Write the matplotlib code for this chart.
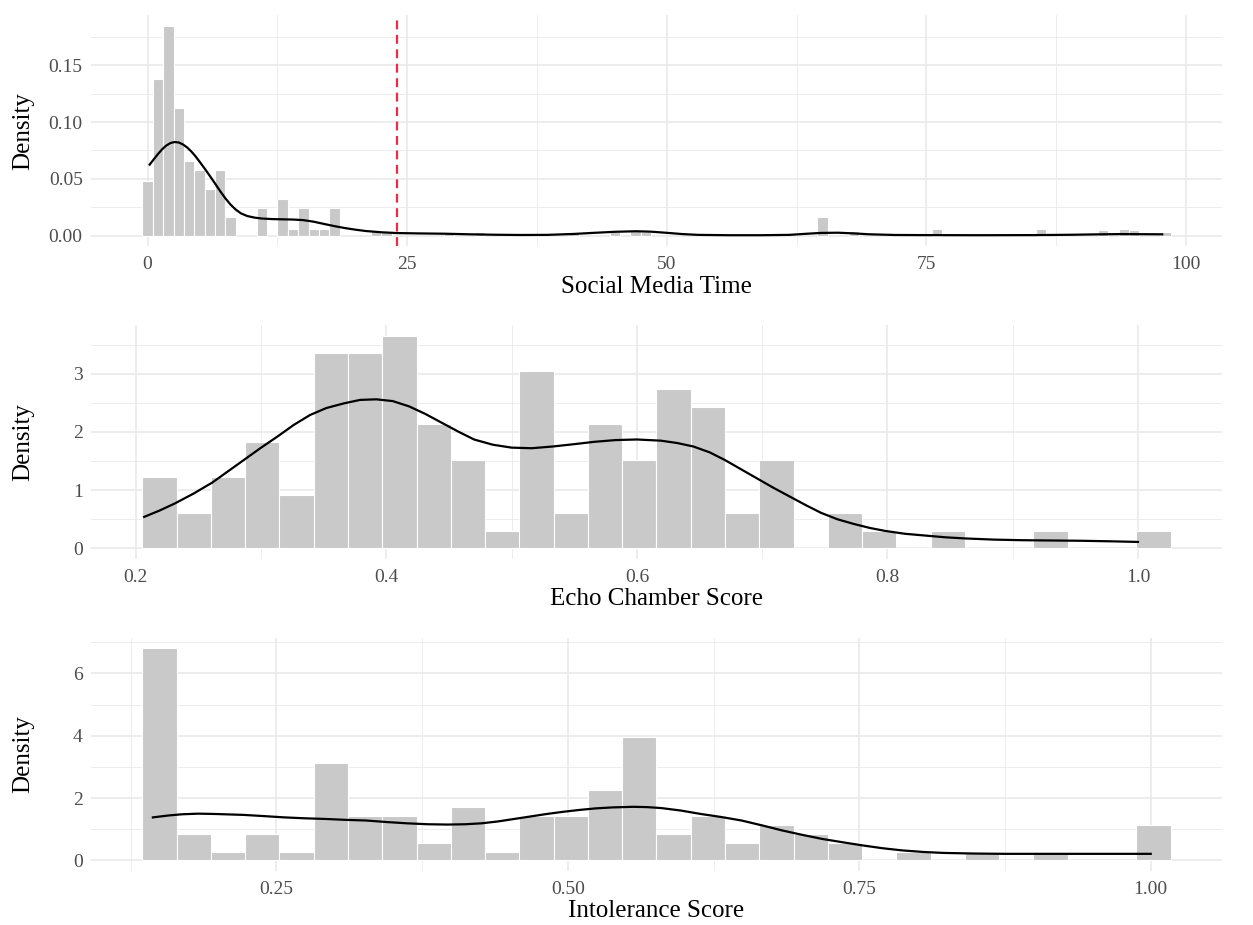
import numpy as np
import matplotlib
matplotlib.use('Agg')
import matplotlib.pyplot as plt
from matplotlib.ticker import FixedLocator, FormatStrFormatter

social_bins = [0, 1, 2, 3, 4, 5, 6, 7, 8, 11, 13, 14, 15, 16, 17, 18,
               22, 23, 29, 32, 41, 45, 47, 48, 65, 68, 76, 86, 92, 94, 95, 98]
social_density = [0.048, 0.138, 0.185, 0.112, 0.066, 0.058, 0.041, 0.058, 0.016,
                  0.024, 0.032, 0.006, 0.024, 0.006, 0.006, 0.024,
                  0.004, 0.003, 0.003, 0.003, 0.003, 0.003, 0.005, 0.003,
                  0.016, 0.004, 0.006, 0.006, 0.005, 0.006, 0.005, 0.003]
social_kde_x = [0.2, 0.6, 1.0, 1.4, 1.8, 2.2, 2.6, 3.0, 3.4, 3.8, 4.2, 4.6, 5.0,
                5.5, 6.0, 6.5, 7.0, 7.5, 8.0, 8.5, 9.0, 9.6, 10.3, 11.0, 12.0,
                13.0, 14.0, 15.0, 16.0, 17.0, 18.0, 19.0, 20.0, 21.0, 22.5, 24.0,
                26.0, 28.7, 31.0, 33.5, 36.0, 38.5, 41.0, 43.0, 45.0, 47.0, 48.5,
                50.0, 51.5, 53.0, 56.0, 59.0, 61.8, 63.5, 64.8, 66.5, 68.0, 69.5,
                72.0, 74.6, 80.0, 85.6, 89.0, 91.1, 93.7, 97.7]
social_kde_y = [0.0625, 0.0672, 0.0718, 0.0760, 0.0793, 0.0815, 0.0824, 0.0820,
                0.0803, 0.0777, 0.0742, 0.0700, 0.0652, 0.0590, 0.0525, 0.0458,
                0.0390, 0.0327, 0.0272, 0.0228, 0.0195, 0.0172, 0.0158, 0.0150,
                0.0145, 0.0143, 0.0141, 0.0136, 0.0122, 0.0102, 0.0083, 0.0066,
                0.0052, 0.0040, 0.0029, 0.0022, 0.0019, 0.0016, 0.0011, 0.0007,
                0.0005, 0.0006, 0.0014, 0.0024, 0.0033, 0.0038, 0.0034, 0.0024,
                0.0013, 0.0006, 0.0003, 0.0003, 0.0006, 0.0016, 0.0023, 0.0025,
                0.0019, 0.0011, 0.0005, 0.0004, 0.0003, 0.0004, 0.0007, 0.0010,
                0.0013, 0.0011]
social_cutoff = 24

# Echo Chamber Score: 30 bins, counts per bin
echo_start = 0.2052
echo_width = 0.02736
echo_counts = [4, 2, 4, 6, 3, 11, 11, 12, 7, 5, 1, 10, 2, 7, 5,
               9, 8, 2, 5, 0, 2, 1, 0, 1, 0, 0, 1, 0, 0, 1]
echo_kde_x = [0.2066, 0.219, 0.231, 0.246, 0.261, 0.274, 0.287, 0.300, 0.313,
              0.326, 0.339, 0.352, 0.366, 0.379, 0.392, 0.405, 0.418, 0.431,
              0.444, 0.457, 0.470, 0.485, 0.500, 0.516, 0.533, 0.550, 0.566,
              0.583, 0.600, 0.619, 0.632, 0.645, 0.658, 0.670, 0.683, 0.696,
              0.709, 0.722, 0.735, 0.747, 0.760, 0.773, 0.786, 0.798, 0.814,
              0.830, 0.846, 0.862, 0.885, 0.907, 0.930, 0.955, 0.980, 1.0]
echo_kde_y = [0.54, 0.65, 0.77, 0.94, 1.13, 1.33, 1.53, 1.73, 1.92, 2.12, 2.29,
              2.41, 2.49, 2.55, 2.56, 2.53, 2.44, 2.31, 2.16, 2.01, 1.87, 1.78,
              1.73, 1.72, 1.75, 1.79, 1.83, 1.86, 1.87, 1.85, 1.81, 1.75, 1.65,
              1.52, 1.36, 1.20, 1.04, 0.89, 0.74, 0.61, 0.50, 0.42, 0.35, 0.30,
              0.25, 0.22, 0.19, 0.17, 0.15, 0.14, 0.135, 0.13, 0.12, 0.11]

# Intolerance Score: 30 bins, counts per bin
intol_start = 0.135
intol_width = 0.0294
intol_counts = [24, 3, 1, 3, 1, 11, 5, 5, 2, 6, 1, 5, 5, 8, 14,
                3, 5, 2, 4, 3, 2, 0, 1, 0, 1, 0, 1, 0, 0, 4]
intol_kde_x = [0.144, 0.157, 0.169, 0.183, 0.197, 0.222, 0.240, 0.257, 0.275,
               0.292, 0.310, 0.327, 0.345, 0.362, 0.380, 0.397, 0.412, 0.426,
               0.440, 0.454, 0.468, 0.482, 0.496, 0.510, 0.524, 0.538, 0.556,
               0.568, 0.580, 0.597, 0.614, 0.632, 0.649, 0.667, 0.684, 0.701,
               0.718, 0.736, 0.753, 0.770, 0.787, 0.805, 0.822, 0.848, 0.874,
               0.926, 1.0]
intol_kde_y = [1.38, 1.44, 1.48, 1.50, 1.49, 1.46, 1.42, 1.38, 1.35, 1.33, 1.30,
               1.28, 1.23, 1.19, 1.16, 1.15, 1.16, 1.19, 1.25, 1.33, 1.41, 1.49,
               1.56, 1.62, 1.67, 1.70, 1.72, 1.71, 1.68, 1.60, 1.49, 1.39, 1.28,
               1.12, 0.96, 0.82, 0.69, 0.58, 0.48, 0.39, 0.32, 0.27, 0.24, 0.22,
               0.21, 0.21, 0.21]

plt.rcParams['font.family'] = ['Liberation Serif', 'DejaVu Serif']

BAR = '#C9C9C9'
GRID = '#EAEAEA'
TICK = '#4D4D4D'


def style(ax, xmaj, xmin, ymaj, ymin, xfmt, yfmt, xlabel):
    ax.use_sticky_edges = False
    ax.margins(x=0.05, y=0.05)
    ax.autoscale_view()
    for s in ax.spines.values():
        s.set_visible(False)
    ax.xaxis.set_major_locator(FixedLocator(xmaj))
    ax.xaxis.set_minor_locator(FixedLocator(xmin))
    ax.yaxis.set_major_locator(FixedLocator(ymaj))
    ax.yaxis.set_minor_locator(FixedLocator(ymin))
    ax.xaxis.set_major_formatter(FormatStrFormatter(xfmt))
    ax.yaxis.set_major_formatter(FormatStrFormatter(yfmt))
    ax.grid(which='major', color=GRID, linewidth=1.2)
    ax.grid(which='minor', color=GRID, linewidth=0.6)
    ax.set_axisbelow(True)
    ax.tick_params(which='both', length=0)
    ax.tick_params(axis='x', pad=7, labelsize=14, labelcolor=TICK)
    ax.tick_params(axis='y', pad=6, labelsize=14, labelcolor=TICK)
    ax.set_xlabel(xlabel, fontsize=18, labelpad=2)
    ax.set_ylabel('Density', fontsize=18)
    # same left position of "Density" for all three panels
    ax.yaxis.set_label_coords(-0.050, 0.5)


fig = plt.figure(figsize=(12.53, 9.25), dpi=100)

# top panel
ax1 = fig.add_axes([0.0726, 0.734, 0.9026, 0.2497])
ax1.bar(social_bins, social_density, width=1, color=BAR, edgecolor='white', linewidth=0.8)
ax1.plot(social_kde_x, social_kde_y, color='black', linewidth=1.6)
ax1.axvline(social_cutoff, color='#EE2B47', linestyle=(0, (4, 2.5)), linewidth=1.6)
style(ax1, [0, 25, 50, 75, 100], [12.5, 37.5, 62.5, 87.5],
      [0, 0.05, 0.10, 0.15], [0.025, 0.075, 0.125, 0.175],
      '%d', '%.2f', 'Social Media Time')

# middle panel
ax2 = fig.add_axes([0.0726, 0.3957, 0.9026, 0.253])
echo_dens = np.array(echo_counts) / (sum(echo_counts) * echo_width)
echo_left = echo_start + np.arange(len(echo_counts)) * echo_width
ax2.bar(echo_left, echo_dens, width=echo_width, align='edge', color=BAR,
        edgecolor='white', linewidth=0.8)
ax2.plot(echo_kde_x, echo_kde_y, color='black', linewidth=1.6)
style(ax2, [0.2, 0.4, 0.6, 0.8, 1.0], [0.3, 0.5, 0.7, 0.9],
      [0, 1, 2, 3], [0.5, 1.5, 2.5, 3.5],
      '%.1f', '%d', 'Echo Chamber Score')

# bottom panel
ax3 = fig.add_axes([0.0726, 0.0584, 0.9026, 0.252])
intol_dens = np.array(intol_counts) / (sum(intol_counts) * intol_width)
intol_left = intol_start + np.arange(len(intol_counts)) * intol_width
ax3.bar(intol_left, intol_dens, width=intol_width, align='edge', color=BAR,
        edgecolor='white', linewidth=0.8)
ax3.plot(intol_kde_x, intol_kde_y, color='black', linewidth=1.6)
style(ax3, [0.25, 0.50, 0.75, 1.00], [0.125, 0.375, 0.625, 0.875],
      [0, 2, 4, 6], [1, 3, 5, 7],
      '%.2f', '%d', 'Intolerance Score')

fig.savefig('out.png', dpi=100, facecolor='white')
